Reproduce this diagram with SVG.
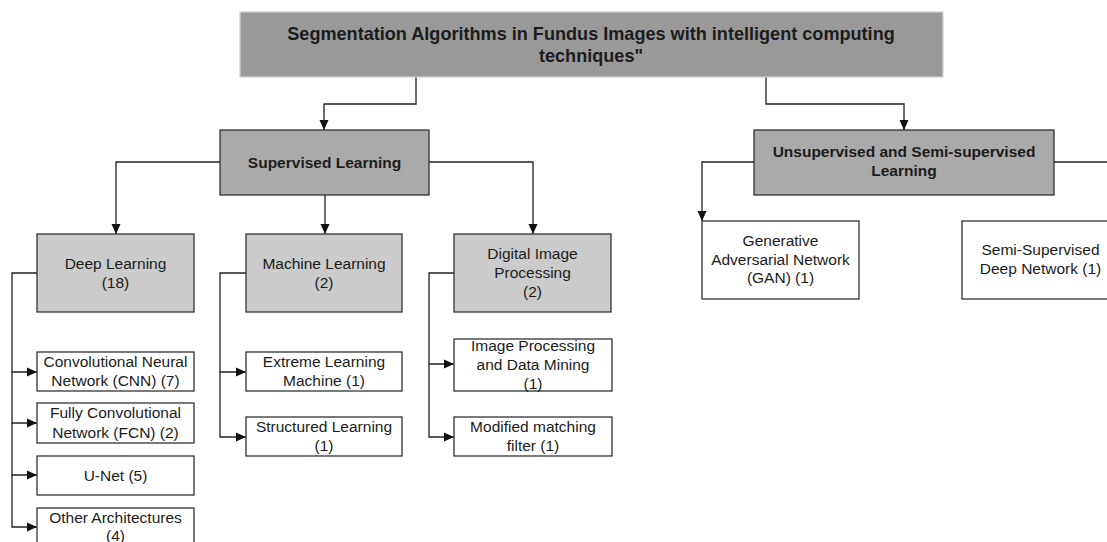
<svg xmlns="http://www.w3.org/2000/svg" width="1107" height="542" viewBox="0 0 1107 542">
  <style>
    text { font-family: "Liberation Sans", Arial, sans-serif; font-size: 15.5px; fill: #1c1c1c; text-anchor: middle; }
    .bold { font-weight: bold; }
    .title { font-size: 18.1px; }
    .root { fill: #999999; stroke: #d0d0d0; stroke-width: 1.3; }
    .lvl1 { fill: #aaaaaa; stroke: #333; stroke-width: 1.3; }
    .lvl2 { fill: #cbcbcb; stroke: #333; stroke-width: 1.3; }
    .leaf { fill: #ffffff; stroke: #333; stroke-width: 1.3; }
    .conn path { fill: none; stroke: #222; stroke-width: 1.3; }
    .arrow path { marker-end: url(#head); }
  </style>
  <defs>
    <marker id="head" markerUnits="userSpaceOnUse" markerWidth="10" markerHeight="10" viewBox="0 0 10 10" refX="10" refY="5" orient="auto">
      <path d="M0,0.5 L10,5 L0,9.5 Z" fill="#111"/>
    </marker>
  </defs>
  <rect width="1107" height="542" fill="#ffffff"/>

  <!-- connectors -->
  <g id="connectors" class="conn">
    <g class="arrow">
      <path d="M416,77 V104 H324 V130"/>
      <path d="M766,77 V104 H904 V130"/>
      <path d="M220,162 H116 V234"/>
      <path d="M325,195 V234"/>
      <path d="M429,162 H533 V234"/>
      <path d="M754,162 H702 V221"/>
      <path d="M37,273 H12 V372 H37"/>
      <path d="M12,372 V423 H37"/>
      <path d="M12,423 V475 H37"/>
      <path d="M12,475 V527 H37"/>
      <path d="M246,273 H220 V372 H246"/>
      <path d="M220,372 V437 H246"/>
      <path d="M454,273 H429 V364 H454"/>
      <path d="M429,364 V437 H454"/>
    </g>
    <path d="M1054,162 H1110"/>
  </g>

  <!-- root -->
  <g id="root">
    <rect class="root" x="240" y="12" width="703" height="65"/>
    <text class="bold title" x="591" y="40">Segmentation Algorithms in Fundus Images with intelligent computing</text>
    <text class="bold title" x="591" y="62">techniques"</text>
  </g>

  <!-- first level -->
  <g id="supervised">
    <rect class="lvl1" x="220" y="130" width="209" height="65"/>
    <text class="bold" x="324.5" y="168">Supervised Learning</text>
  </g>
  <g id="unsupervised">
    <rect class="lvl1" x="754" y="130" width="300" height="65"/>
    <text class="bold" x="904" y="157">Unsupervised and Semi-supervised</text>
    <text class="bold" x="904" y="176">Learning</text>
  </g>

  <!-- second level -->
  <g id="deep-learning">
    <rect class="lvl2" x="37" y="234" width="157" height="78"/>
    <text x="115.5" y="269">Deep Learning</text>
    <text x="115.5" y="288">(18)</text>
  </g>
  <g id="machine-learning">
    <rect class="lvl2" x="246" y="234" width="156" height="78"/>
    <text x="324" y="269">Machine Learning</text>
    <text x="324" y="288">(2)</text>
  </g>
  <g id="digital-image-processing">
    <rect class="lvl2" x="454" y="234" width="157" height="78"/>
    <text x="532.5" y="259">Digital Image</text>
    <text x="532.5" y="278">Processing</text>
    <text x="532.5" y="297">(2)</text>
  </g>
  <g id="gan">
    <rect class="leaf" x="702" y="221" width="157" height="78"/>
    <text x="780.5" y="246">Generative</text>
    <text x="780.5" y="264.5">Adversarial Network</text>
    <text x="780.5" y="283">(GAN) (1)</text>
  </g>
  <g id="semi-supervised">
    <rect class="leaf" x="962" y="221" width="157" height="78"/>
    <text x="1040.5" y="255">Semi-Supervised</text>
    <text x="1040.5" y="274">Deep Network (1)</text>
  </g>

  <!-- deep learning leaves -->
  <g id="cnn">
    <rect class="leaf" x="37" y="352" width="157" height="39"/>
    <text x="115.5" y="367">Convolutional Neural</text>
    <text x="115.5" y="386">Network (CNN) (7)</text>
  </g>
  <g id="fcn">
    <rect class="leaf" x="37" y="403" width="157" height="40"/>
    <text x="115.5" y="418">Fully Convolutional</text>
    <text x="115.5" y="437.5">Network (FCN) (2)</text>
  </g>
  <g id="unet">
    <rect class="leaf" x="37" y="456" width="157" height="39"/>
    <text x="115.5" y="481">U-Net (5)</text>
  </g>
  <g id="other">
    <rect class="leaf" x="37" y="508" width="157" height="39"/>
    <text x="115.5" y="523">Other Architectures</text>
    <text x="115.5" y="541">(4)</text>
  </g>

  <!-- machine learning leaves -->
  <g id="elm">
    <rect class="leaf" x="246" y="352" width="156" height="39"/>
    <text x="324" y="367">Extreme Learning</text>
    <text x="324" y="386">Machine (1)</text>
  </g>
  <g id="structured">
    <rect class="leaf" x="246" y="417" width="156" height="39"/>
    <text x="324" y="432">Structured Learning</text>
    <text x="324" y="451">(1)</text>
  </g>

  <!-- image processing leaves -->
  <g id="ipdm">
    <rect class="leaf" x="454" y="339" width="158" height="52"/>
    <text x="533" y="351">Image Processing</text>
    <text x="533" y="370">and Data Mining</text>
    <text x="533" y="389">(1)</text>
  </g>
  <g id="mmf">
    <rect class="leaf" x="454" y="417" width="158" height="39"/>
    <text x="533" y="432">Modified matching</text>
    <text x="533" y="451">filter (1)</text>
  </g>
</svg>
